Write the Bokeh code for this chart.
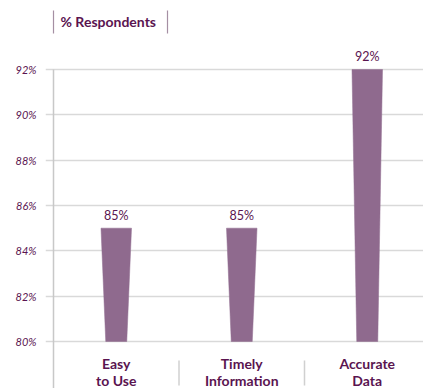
from bokeh.plotting import figure
from bokeh.models import FixedTicker, Range1d, ColumnDataSource
from bokeh.core.properties import value
from bokeh.embed import file_html
from bokeh.resources import INLINE

# Survey results
categories = ["Easy\nto Use", "Timely\nInformation", "Accurate\nData"]
percentages = [85, 85, 92]
value_labels = ["85%", "85%", "92%"]
y_ticks = [80, 82, 84, 86, 88, 90, 92]
tick_labels = {t: f"{t}%" for t in y_ticks}
baseline = 80
title_text = "% Respondents"

FONT = "Lato"
PURPLE_TEXT = "#5a1450"
BAR_FILL = "#8f6a8e"
GRID = "#d9d9d9"

# scale helpers (pixels per unit) used to lay out decorations around the frame
PX_PER_Y = 22.68
PX_PER_X = 125.5
H = 388
W = 423
LEFT = 45
y_top = 92 + 69 / PX_PER_Y
y_bot = baseline - 47 / PX_PER_Y

p = figure(
    width=W, height=H, output_backend="svg", toolbar_location=None,
    x_range=Range1d(-8 / PX_PER_X, (W - 53) / PX_PER_X),
    y_range=Range1d(y_bot, y_top),
    min_border_left=LEFT, min_border_right=0, min_border_top=0, min_border_bottom=0,
)
p.outline_line_color = None
p.background_fill_color = "white"
p.xaxis.visible = False
p.xgrid.visible = False

p.ygrid.ticker = FixedTicker(ticks=y_ticks)
p.ygrid.grid_line_color = GRID
p.ygrid.grid_line_width = 1.5

ax = p.yaxis[0]
ax.ticker = FixedTicker(ticks=y_ticks)
ax.major_label_overrides = tick_labels
ax.axis_line_color = None
ax.major_tick_line_color = None
ax.minor_tick_line_color = None
ax.major_tick_out = 0
ax.major_tick_in = 0
ax.major_label_standoff = 9
ax.major_label_text_font = FONT
ax.major_label_text_font_style = "italic"
ax.major_label_text_font_size = "11px"
ax.major_label_text_color = PURPLE_TEXT

# vertical axis line running down through the category label band
p.segment(x0=[0], y0=[y_bot], x1=[0], y1=[max(y_ticks)], line_color="#c8c8c8", line_width=1.5)

# tapered bars: wider at the top, narrower at the baseline
centers = [i + 0.5 for i in range(len(categories))]
top_half = 15.25 / PX_PER_X
bot_half = 10.5 / PX_PER_X
xs = [[c - bot_half, c + bot_half, c + top_half, c - top_half] for c in centers]
ys = [[baseline, baseline, v, v] for v in percentages]
p.patches(xs, ys, fill_color=BAR_FILL, line_color=BAR_FILL, line_width=0.5)

# value labels above bars
src = ColumnDataSource(dict(x=centers, y=percentages, t=value_labels))
p.text(x="x", y="y", text="t", source=src, text_align="center", text_baseline="bottom",
       y_offset=-5, text_font=value(FONT), text_font_size="12.5px", text_color=PURPLE_TEXT)

# category labels under the baseline
cat_src = ColumnDataSource(dict(x=centers, y=[baseline - 13 / PX_PER_Y] * len(categories), t=categories))
p.text(x="x", y="y", text="t", source=cat_src, text_align="center", text_baseline="top",
       text_font=value(FONT), text_font_style="bold", text_font_size="14px",
       text_color=PURPLE_TEXT, text_line_height=1.05)

# separators between categories
seps = list(range(1, len(categories)))
p.segment(x0=seps, y0=[baseline - 19 / PX_PER_Y] * len(seps), x1=seps,
          y1=[y_bot + 3 / PX_PER_Y] * len(seps), line_color="#d0d0d0", line_width=1.5)

# header label with thin bars on either side
p.text(x=[7 / PX_PER_X], y=[y_top - 21 / PX_PER_Y], text=[title_text], text_align="left",
       text_baseline="middle", text_font=value(FONT), text_font_style="bold",
       text_font_size="14px", text_color=PURPLE_TEXT)
p.segment(x0=[0, 114 / PX_PER_X], y0=[y_top - 10 / PX_PER_Y] * 2,
          x1=[0, 114 / PX_PER_X], y1=[y_top - 33 / PX_PER_Y] * 2,
          line_color="#a58fa3", line_width=1.2)

open("out.html", "w").write(file_html(p, INLINE))
